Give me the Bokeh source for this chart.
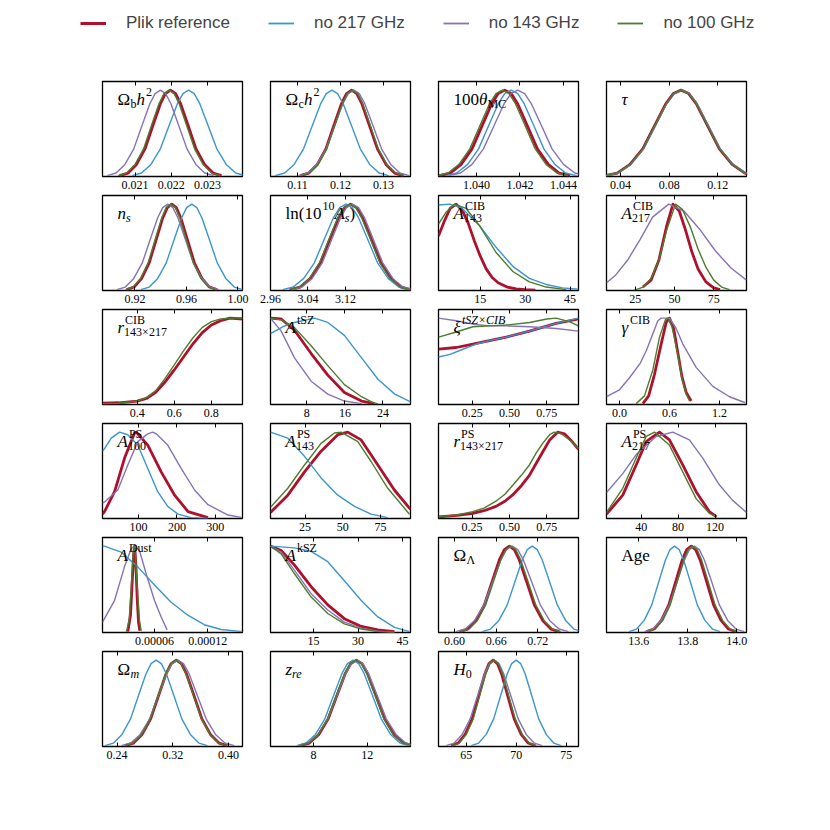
from bokeh.plotting import figure
from bokeh.models import (Range1d, FixedTicker, PrintfTickFormatter, LinearAxis,
                          Label, Legend, LegendItem, Spacer)
from bokeh.layouts import gridplot, column, row
from bokeh.embed import file_html
from bokeh.resources import INLINE

# ---------------- series ----------------
SERIES = ["Plik reference", "no 217 GHz", "no 143 GHz", "no 100 GHz"]
KEYS = ["ref", "n217", "n143", "n100"]
COLORS = {"ref": "#af102d", "n217": "#3c96cd", "n143": "#8773b4", "n100": "#4b7d2d"}
WIDTHS = {"ref": 2.8, "n217": 1.4, "n143": 1.4, "n100": 1.4}

# common near-Gaussian height profile (percent of peak)
G = [1, 4, 14, 32, 61, 84, 96, 100, 96, 84, 61, 32, 14, 4, 1]

ombh2 = {
    "ref": ([0.02057, 0.020805, 0.02104, 0.021275, 0.02151, 0.021698, 0.021839, 0.02198, 0.022121, 0.022262, 0.02245, 0.022685, 0.02292, 0.023155, 0.02339], G),
    "n217": ([0.02092, 0.02118, 0.02144, 0.0217, 0.02196, 0.022168, 0.022324, 0.02248, 0.022636, 0.022792, 0.023, 0.02326, 0.02352, 0.02378, 0.02404], G),
    "n143": ([0.02023, 0.020475, 0.02072, 0.020965, 0.02121, 0.021406, 0.021553, 0.0217, 0.021847, 0.021994, 0.02219, 0.022435, 0.02268, 0.022925, 0.02317], G),
    "n100": ([0.02053, 0.020765, 0.021, 0.021235, 0.02147, 0.021658, 0.021799, 0.02194, 0.022081, 0.022222, 0.02241, 0.022645, 0.02288, 0.023115, 0.02335], G),
}
omch2 = {
    "ref": ([0.1106, 0.1126, 0.1146, 0.1166, 0.1186, 0.1202, 0.1214, 0.1226, 0.1238, 0.125, 0.1266, 0.1286, 0.1306, 0.1326, 0.1346], G),
    "n217": ([0.1048, 0.107, 0.1092, 0.1114, 0.1136, 0.11536, 0.11668, 0.118, 0.11932, 0.12064, 0.1224, 0.1246, 0.1268, 0.129, 0.1312], G),
    "n143": ([0.1102, 0.11235, 0.1145, 0.11665, 0.1188, 0.12052, 0.12181, 0.1231, 0.12439, 0.12568, 0.1274, 0.12955, 0.1317, 0.13385, 0.136], G),
    "n100": ([0.1108, 0.1128, 0.1148, 0.1168, 0.1188, 0.1204, 0.1216, 0.1228, 0.124, 0.1252, 0.1268, 0.1288, 0.1308, 0.1328, 0.1348], G),
}
theta = {
    "ref": ([1.0383, 1.0388, 1.0393, 1.0398, 1.0403, 1.0407, 1.041, 1.0413, 1.0416, 1.0419, 1.0423, 1.0428, 1.0433, 1.0438, 1.0443], G),
    "n217": ([1.0386, 1.0391, 1.0396, 1.0401, 1.0406, 1.041, 1.0413, 1.0416, 1.0419, 1.0422, 1.0426, 1.0431, 1.0436, 1.0441, 1.0446], G),
    "n143": ([1.03875, 1.039275, 1.0398, 1.040325, 1.04085, 1.04127, 1.041585, 1.0419, 1.042215, 1.04253, 1.04295, 1.043475, 1.044, 1.044525, 1.04505], G),
    "n100": ([1.0382, 1.0387, 1.0392, 1.0397, 1.0402, 1.0406, 1.0409, 1.0412, 1.0415, 1.0418, 1.0422, 1.0427, 1.0432, 1.0437, 1.0442], G),
}
tau = {
    "ref": ([0.0268, 0.0373, 0.0478, 0.0583, 0.0688, 0.0772, 0.0835, 0.0898, 0.0961, 0.1024, 0.1108, 0.1213, 0.1318, 0.1423, 0.1528], G),
    "n217": ([0.0272, 0.0377, 0.0482, 0.0587, 0.0692, 0.0776, 0.0839, 0.0902, 0.0965, 0.1028, 0.1112, 0.1217, 0.1322, 0.1427, 0.1532], G),
    "n143": ([0.0275, 0.038, 0.0485, 0.059, 0.0695, 0.0779, 0.0842, 0.0905, 0.0968, 0.1031, 0.1115, 0.122, 0.1325, 0.143, 0.1535], G),
    "n100": ([0.0271, 0.0376, 0.0481, 0.0586, 0.0691, 0.0775, 0.0838, 0.0901, 0.0964, 0.1027, 0.1111, 0.1216, 0.1321, 0.1426, 0.1531], G),
}
ns = {
    "ref": ([0.9135, 0.91935, 0.9252, 0.93105, 0.9369, 0.94158, 0.94509, 0.9486, 0.95211, 0.95562, 0.9603, 0.96615, 0.972, 0.97785, 0.9837], G),
    "n217": ([0.9245, 0.9311, 0.9377, 0.9443, 0.9509, 0.95618, 0.96014, 0.9641, 0.96806, 0.97202, 0.9773, 0.9839, 0.9905, 0.9971, 1.0037], G),
    "n143": ([0.9059, 0.9125, 0.9191, 0.9257, 0.9323, 0.93758, 0.94154, 0.9455, 0.94946, 0.95342, 0.9587, 0.9653, 0.9719, 0.9785, 0.9851], G),
    "n100": ([0.9127, 0.91855, 0.9244, 0.93025, 0.9361, 0.94078, 0.94429, 0.9478, 0.95131, 0.95482, 0.9595, 0.96535, 0.9712, 0.97705, 0.9829], G),
}
logA = {
    "ref": ([3.002, 3.0235, 3.045, 3.0665, 3.088, 3.1052, 3.1181, 3.131, 3.1439, 3.1568, 3.174, 3.1955, 3.217, 3.2385, 3.26], G),
    "n217": ([2.986, 3.0085, 3.031, 3.0535, 3.076, 3.094, 3.1075, 3.121, 3.1345, 3.148, 3.166, 3.1885, 3.211, 3.2335, 3.256], G),
    "n143": ([3.006, 3.0275, 3.049, 3.0705, 3.092, 3.1092, 3.1221, 3.135, 3.1479, 3.1608, 3.178, 3.1995, 3.221, 3.2425, 3.264], G),
    "n100": ([3.0, 3.0215, 3.043, 3.0645, 3.086, 3.1032, 3.1161, 3.129, 3.1419, 3.1548, 3.172, 3.1935, 3.215, 3.2365, 3.258], G),
}
acib143 = {
    "ref": ([1.1, 3, 5, 7, 9, 11, 13, 15, 17, 19, 21, 24, 27, 30, 33.4],
            [63, 80, 95, 100, 93, 78, 58, 40, 25, 15, 9, 4, 2, 1, 0.3]),
    "n217": ([1.1, 4.8, 8.7, 14.8, 20.3, 25.9, 31.4, 37, 42.5, 47.8],
             [99, 100, 96, 75, 50, 28, 14, 7, 3, 1.5]),
    "n100": ([1.1, 3.7, 6.4, 10.3, 14.8, 20.3, 25.9, 31.4, 37, 43.7],
             [77, 91, 100, 95, 75, 44, 22, 10, 4, 1]),
}
acib217 = {
    "ref": ([29.8, 35, 40, 45, 49, 53, 57, 61, 65, 70, 75, 79],
            [4, 12, 35, 75, 100, 92, 70, 45, 25, 10, 3, 1]),
    "n143": ([6.6, 12, 20, 28, 36, 46.3, 56, 66, 76, 86, 95.9],
             [9, 17, 35, 59, 85, 100, 92, 71, 46, 26, 12]),
    "n100": ([24.5, 30, 35, 40, 45, 50.6, 55, 60, 65, 70, 75, 80, 85],
             [0.5, 4, 14, 35, 70, 100, 94, 74, 48, 27, 12, 4, 1]),
}
rcib = {
    "ref": ([0.213, 0.3, 0.4, 0.45, 0.5, 0.55, 0.6, 0.65, 0.7, 0.75, 0.8, 0.85, 0.9, 0.968],
            [1.5, 2, 4, 7, 14, 26, 40, 55, 70, 83, 92, 97, 100, 99]),
    "n100": ([0.213, 0.3, 0.4, 0.45, 0.5, 0.55, 0.6, 0.65, 0.7, 0.75, 0.8, 0.85, 0.9, 0.968],
             [0.8, 1.5, 4, 8, 16, 30, 46, 62, 77, 89, 96, 99, 100, 100]),
}
atsz = {
    "ref": ([0.35, 2.6, 5.4, 8.9, 12.4, 15.9, 19.5, 22.2], [100, 99, 86, 59, 34, 14, 4, 1]),
    "n217": ([0.35, 2.9, 5.4, 9.6, 12.4, 15.9, 19.5, 23.0, 26.5, 29.8],
             [82, 90, 95, 100, 95, 80, 54, 29, 12, 3]),
    "n143": ([0.35, 2.6, 5.4, 8.9, 12.4, 15.9, 19.5], [100, 85, 54, 27, 12, 4, 1]),
    "n100": ([0.35, 2.6, 5.4, 8.9, 12.4, 15.9, 19.5, 21.6, 23.0], [100, 98, 89, 68, 45, 23, 9, 3, 0.5]),
}
xi = {
    "ref": ([0.024, 0.143, 0.254, 0.366, 0.477, 0.634, 0.812, 0.962], [64, 66, 70, 74, 78, 85, 94, 99]),
    "n217": ([0.024, 0.101, 0.187, 0.277, 0.366, 0.477, 0.634, 0.812, 0.962],
             [55, 58, 64, 70, 74, 78, 85, 94, 100]),
    "n143": ([0.024, 0.143, 0.254, 0.366, 0.477, 0.634, 0.812, 0.962], [100, 97, 93, 91, 91, 90, 88, 85]),
    "n100": ([0.024, 0.143, 0.254, 0.366, 0.477, 0.634, 0.75, 0.812, 0.9, 0.962],
             [78, 84, 90, 91, 92, 95, 99, 100, 96, 91]),
}
gcib = {
    "ref": ([0.28, 0.35, 0.42, 0.5, 0.56, 0.6, 0.65, 0.7, 0.75, 0.8, 0.86],
            [1, 10, 35, 70, 95, 100, 88, 60, 32, 14, 4]),
    "n143": ([-0.156, 0.0, 0.12, 0.25, 0.32, 0.4, 0.46, 0.5, 0.6, 0.68, 0.76, 0.92, 1.12, 1.32, 1.51],
             [9, 17, 31, 48, 62, 82, 97, 100, 100, 88, 70, 43, 21, 9, 2]),
    "n100": ([0.2, 0.3, 0.4, 0.48, 0.55, 0.58, 0.63, 0.7, 0.75, 0.8, 0.84],
             [1, 10, 40, 78, 98, 100, 90, 58, 30, 12, 4]),
}
aps100 = {
    "ref": ([6, 11.3, 37.4, 63.5, 89.6, 94, 124, 159, 194, 229, 281],
            [5, 8, 31, 70, 99, 100, 85, 54, 27, 8, 1]),
    "n217": ([6, 11.3, 28.8, 50.5, 72, 98, 124, 150, 176, 203, 237, 280],
             [78, 81, 93, 100, 97, 85, 58, 31, 14, 5, 1, 0]),
    "n143": ([6, 11.3, 46, 72, 98, 124, 137, 146, 176, 211, 246, 281, 333, 371],
             [18, 19, 33, 62, 89, 98, 100, 98, 85, 58, 33, 16, 4, 1]),
}
aps143 = {
    "ref": ([2, 13.5, 24.6, 35.6, 46.7, 53.3, 62.2, 73.3, 84.3, 94.3, 95],
            [7, 27, 54, 78, 97, 100, 91, 62, 33, 12, 11]),
    "n217": ([2, 13.5, 24.6, 35.6, 46.7, 57.8, 68.8, 79.9], [100, 93, 72, 47, 27, 14, 5, 1]),
    "n100": ([2, 13.5, 24.6, 35.6, 44.5, 48.9, 60, 68.8, 79.9, 94.3],
             [13, 35, 62, 87, 99, 100, 89, 66, 35, 5]),
}
rps = {
    "ref": ([0.025, 0.15, 0.254, 0.33, 0.41, 0.47, 0.52, 0.58, 0.634, 0.68, 0.723, 0.77, 0.823, 0.87, 0.91, 0.963],
            [2, 3.5, 6, 9, 14, 20, 27, 38, 50, 64, 77, 91, 100, 98, 91, 80]),
    "n100": ([0.025, 0.15, 0.254, 0.33, 0.41, 0.47, 0.52, 0.58, 0.634, 0.68, 0.723, 0.77, 0.80, 0.85, 0.91, 0.963],
             [2, 4, 8, 12, 20, 28, 38, 50, 62, 76, 87, 97, 100, 98, 90, 81]),
}
aps217 = {
    "ref": ([2.5, 20.1, 34.6, 45.4, 59.8, 70.6, 85, 99.5, 113.8, 121.7],
            [5, 27, 62, 89, 100, 91, 62, 31, 8, 2]),
    "n143": ([2.5, 20.1, 34.6, 56.2, 74.2, 92.2, 106.6, 124.6, 139, 154],
             [30, 52, 74, 95, 100, 91, 70, 39, 21, 7]),
    "n100": ([2.5, 20.1, 34.6, 45.4, 54.4, 70.6, 85, 99.5, 113.8, 121.7],
             [7, 35, 70, 95, 100, 85, 54, 23, 6, 2]),
}
adust = {
    "ref": ([3.0e-5, 3.3e-5, 3.5e-5, 3.67e-5, 3.77e-5, 3.9e-5, 4.05e-5, 4.2e-5, 4.35e-5],
            [1, 20, 60, 92, 100, 80, 40, 12, 2]),
    "n217": ([1.5e-6, 3.7e-6, 2.25e-5, 4.12e-5, 6.0e-5, 7.87e-5, 9.75e-5, 1.16e-4, 1.35e-4, 1.59e-4],
             [100, 100, 93, 76, 55, 35, 20, 9, 3.5, 1]),
    "n143": ([1.5e-6, 1.5e-5, 2.62e-5, 3.37e-5, 3.75e-5, 4.31e-5, 5.06e-5, 6.0e-5, 6.75e-5, 7.42e-5],
             [12, 37, 76, 97, 100, 95, 68, 37, 18, 3]),
    "n100": ([2.85e-5, 3.15e-5, 3.4e-5, 3.6e-5, 3.7e-5, 3.85e-5, 4.05e-5, 4.3e-5, 4.5e-5],
             [1, 15, 55, 92, 100, 90, 55, 15, 2]),
}
aksz = {
    "ref": ([0.5, 4.1, 8.6, 14.2, 19.8, 25.4, 31.1, 36.7, 42.3], [100, 95, 78, 53, 32, 16, 7, 3, 1]),
    "n217": ([0.5, 8.6, 14.2, 19.8, 25.4, 31.1, 36.7, 42.3, 47.4], [100, 98, 94, 82, 60, 37, 18, 6, 1]),
    "n143": ([0.5, 4.1, 8.6, 14.2, 19.8, 25.4, 31.1, 36.7, 42.3], [100, 93, 72, 45, 26, 12, 5, 1.5, 0]),
    "n100": ([0.5, 4.1, 8.6, 14.2, 19.8, 25.4, 31.1, 36.7, 42.3], [100, 91, 68, 41, 22, 10, 4, 1, 0]),
}
omegal = {
    "ref": ([0.607, 0.619, 0.631, 0.643, 0.655, 0.6646, 0.6718, 0.679, 0.6862, 0.6934, 0.703, 0.715, 0.727, 0.739, 0.751], G),
    "n217": ([0.64, 0.652, 0.664, 0.676, 0.688, 0.6976, 0.7048, 0.712, 0.7192, 0.7264, 0.736, 0.748, 0.76, 0.772, 0.784], G),
    "n143": ([0.602, 0.6155, 0.629, 0.6425, 0.656, 0.6668, 0.6749, 0.683, 0.6911, 0.6992, 0.71, 0.7235, 0.737, 0.7505, 0.764], G),
    "n100": ([0.609, 0.621, 0.633, 0.645, 0.657, 0.6666, 0.6738, 0.681, 0.6882, 0.6954, 0.705, 0.717, 0.729, 0.741, 0.753], G),
}
age = {
    "ref": ([13.631, 13.6615, 13.692, 13.7225, 13.753, 13.7774, 13.7957, 13.814, 13.8323, 13.8506, 13.875, 13.9055, 13.936, 13.9665, 13.997], G),
    "n217": ([13.56, 13.591, 13.622, 13.653, 13.684, 13.7088, 13.7274, 13.746, 13.7646, 13.7832, 13.808, 13.839, 13.87, 13.901, 13.932], G),
    "n143": ([13.623, 13.657, 13.691, 13.725, 13.759, 13.7862, 13.8066, 13.827, 13.8474, 13.8678, 13.895, 13.929, 13.963, 13.997, 14.031], G),
    "n100": ([13.637, 13.6675, 13.698, 13.7285, 13.759, 13.7834, 13.8017, 13.82, 13.8383, 13.8566, 13.881, 13.9115, 13.942, 13.9725, 14.003], G),
}
omegam = {
    "ref": ([0.2515, 0.26375, 0.276, 0.28825, 0.3005, 0.3103, 0.31765, 0.325, 0.33235, 0.3397, 0.3495, 0.36175, 0.374, 0.38625, 0.3985], G),
    "n217": ([0.2227, 0.23495, 0.2472, 0.25945, 0.2717, 0.2815, 0.28885, 0.2962, 0.30355, 0.3109, 0.3207, 0.33295, 0.3452, 0.35745, 0.3697], G),
    "n143": ([0.2463, 0.2598, 0.2733, 0.2868, 0.3003, 0.3111, 0.3192, 0.3273, 0.3354, 0.3435, 0.3543, 0.3678, 0.3813, 0.3948, 0.4083], G),
    "n100": ([0.251, 0.26325, 0.2755, 0.28775, 0.3, 0.3098, 0.31715, 0.3245, 0.33185, 0.3392, 0.349, 0.36125, 0.3735, 0.38575, 0.398], G),
}
zre = {
    "ref": ([7.0, 7.7, 8.4, 9.1, 9.8, 10.36, 10.78, 11.2, 11.62, 12.04, 12.6, 13.3, 14.0, 14.7, 15.4], G),
    "n217": ([6.75, 7.45, 8.15, 8.85, 9.55, 10.11, 10.53, 10.95, 11.37, 11.79, 12.35, 13.05, 13.75, 14.45, 15.15], G),
    "n143": ([6.9, 7.625, 8.35, 9.075, 9.8, 10.38, 10.815, 11.25, 11.685, 12.12, 12.7, 13.425, 14.15, 14.875, 15.6], G),
    "n100": ([6.95, 7.65, 8.35, 9.05, 9.75, 10.31, 10.73, 11.15, 11.57, 11.99, 12.55, 13.25, 13.95, 14.65, 15.35], G),
}
h0 = {
    "ref": ([63.5, 64.2, 64.9, 65.6, 66.3, 66.86, 67.28, 67.7, 68.12, 68.54, 69.1, 69.8, 70.5, 71.2, 71.9], G),
    "n217": ([65.5, 66.25, 67.0, 67.75, 68.5, 69.1, 69.55, 70.0, 70.45, 70.9, 71.5, 72.25, 73.0, 73.75, 74.5], G),
    "n143": ([63.0, 63.8, 64.6, 65.4, 66.2, 66.84, 67.32, 67.8, 68.28, 68.76, 69.4, 70.2, 71.0, 71.8, 72.6], G),
    "n100": ([63.6, 64.3, 65.0, 65.7, 66.4, 66.96, 67.38, 67.8, 68.22, 68.64, 69.2, 69.9, 70.6, 71.3, 72.0], G),
}

# panel titles: ("b", text, italic) base, ("sub"/"sup", text, italic), ("ss", sub, sup, sub_it, sup_it)
TITLES = [
    [("b", "Ω", 0), ("sub", "b", 0), ("b", "h", 1), ("sup", "2", 0)],
    [("b", "Ω", 0), ("sub", "c", 0), ("b", "h", 1), ("sup", "2", 0)],
    [("b", "100", 0), ("b", "θ", 1), ("sub", "MC", 0)],
    [("b", "τ", 1)],
    [("b", "n", 1), ("sub", "s", 1)],
    [("b", "ln(10", 0), ("sup", "10", 0), ("b", "A", 1), ("sub", "s", 1), ("b", ")", 0)],
    [("b", "A", 1), ("ss", "143", "CIB", 0, 0)],
    [("b", "A", 1), ("ss", "217", "CIB", 0, 0)],
    [("b", "r", 1), ("ss", "143×217", "CIB", 0, 0)],
    [("b", "A", 1), ("sup", "tSZ", 0)],
    [("b", "ξ", 1), ("sup", "tSZ×CIB", 1)],
    [("b", "γ", 1), ("sup", "CIB", 0)],
    [("b", "A", 1), ("ss", "100", "PS", 0, 0)],
    [("b", "A", 1), ("ss", "143", "PS", 0, 0)],
    [("b", "r", 1), ("ss", "143×217", "PS", 0, 0)],
    [("b", "A", 1), ("ss", "217", "PS", 0, 0)],
    [("b", "A", 1), ("sup", "Dust", 0)],
    [("b", "A", 1), ("sup", "kSZ", 0)],
    [("b", "Ω", 0), ("sub", "Λ", 0)],
    [("b", "Age", 0)],
    [("b", "Ω", 0), ("sub", "m", 1)],
    [("b", "z", 1), ("sub", "re", 1)],
    [("b", "H", 1), ("sub", "0", 0)],
]
DATA = [ombh2, omch2, theta, tau, ns, logA, acib143, acib217, rcib, atsz, xi, gcib,
        aps100, aps143, rps, aps217, adust, aksz, omegal, age, omegam, zre, h0]
XLIMS = [(0.0201, 0.02397), (0.1037, 0.1363), (1.03826, 1.04469), (0.0285, 0.1436),
         (0.8948, 1.0035), (2.96, 3.2587), (1.1, 47.8), (6.6, 95.9),
         (0.213, 0.968), (0.35, 29.8), (0.024, 0.962), (-0.156, 1.524),
         (6, 371), (2, 95), (0.025, 0.963), (2.5, 154),
         (1.5e-6, 1.59e-4), (0.5, 47.7), (0.577, 0.7786), (13.468, 14.04),
         (0.2192, 0.42), (4.8, 15.23), (62.23, 76.23)]
TICKS = [[0.021, 0.022, 0.023], [0.11, 0.12, 0.13], [1.040, 1.042, 1.044], [0.04, 0.08, 0.12],
         [0.92, 0.96, 1.00], [2.96, 3.04, 3.12], [15, 30, 45], [25, 50, 75],
         [0.4, 0.6, 0.8], [8, 16, 24], [0.25, 0.50, 0.75], [0.0, 0.6, 1.2],
         [100, 200, 300], [25, 50, 75], [0.25, 0.50, 0.75], [40, 80, 120],
         [0.00006, 0.00012], [15, 30, 45], [0.60, 0.66, 0.72], [13.6, 13.8, 14.0],
         [0.24, 0.32, 0.40], [8, 12], [65, 70, 75]]
FORMATS = ["%.3f", "%.2f", "%.3f", "%.2f", "%.2f", "%.2f", "%d", "%d",
           "%.1f", "%d", "%.2f", "%.1f", "%d", "%d", "%.2f", "%d",
           "%.5f", "%d", "%.2f", "%.1f", "%.2f", "%d", "%d"]

# ---------------- styling ----------------
SERIF = "Liberation Serif"
BASE_PX, SCR_PX = 17, 12
BASE_DY, SUP_DY, SUB_DY, LEFT_PAD = 18, 8, -4, 15
YMAX = 110

W_RM = {"Ω": 768, "Λ": 722, ".": 250, "(": 333, ")": 333, "×": 564, "l": 278, "n": 500,
        "A": 722, "g": 500, "e": 444, "b": 500, "c": 444, "h": 500, "M": 889, "C": 667,
        "I": 333, "B": 667, "P": 556, "S": 556, "D": 722, "u": 500, "s": 389, "t": 278,
        "k": 500, "Z": 611, "r": 333, "m": 778, "H": 722, "z": 444}
W_IT = {"A": 611, "h": 500, "n": 500, "s": 389, "r": 389, "z": 389, "H": 722, "m": 722,
        "t": 278, "S": 500, "Z": 556, "C": 667, "I": 333, "B": 611, "×": 675, "θ": 500,
        "τ": 440, "ξ": 440, "γ": 440, "e": 444}


def text_w(t, size, it):
    tbl = W_IT if it else W_RM
    return sum(tbl.get(c, 500) for c in t) * size / 1000.0


def put(p, x0, dx, dy, t, size, it):
    p.add_layout(Label(x=x0, y=YMAX, x_offset=dx, y_offset=dy, text=t,
                       text_font=SERIF, text_font_size=f"{size}px",
                       text_font_style="italic" if it else "normal",
                       text_color="black", text_baseline="alphabetic", text_align="left"))


def add_title(p, segs, x0):
    dx = LEFT_PAD
    for s in segs:
        k = s[0]
        if k == "b":
            put(p, x0, dx, -BASE_DY, s[1], BASE_PX, s[2])
            dx += text_w(s[1], BASE_PX, s[2])
        elif k == "sup":
            put(p, x0, dx + 1, -BASE_DY + SUP_DY, s[1], SCR_PX, s[2])
            dx += text_w(s[1], SCR_PX, s[2]) + 1
        elif k == "sub":
            put(p, x0, dx, -BASE_DY + SUB_DY, s[1], SCR_PX, s[2])
            dx += text_w(s[1], SCR_PX, s[2])
        else:
            put(p, x0, dx, -BASE_DY + SUB_DY, s[1], SCR_PX, s[3])
            put(p, x0, dx + 1, -BASE_DY + SUP_DY, s[2], SCR_PX, s[4])
            dx += max(text_w(s[1], SCR_PX, s[3]), text_w(s[2], SCR_PX, s[4]) + 1)


def make_panel(i):
    lo, hi = XLIMS[i]
    p = figure(frame_width=140, frame_height=95, x_range=Range1d(lo, hi),
               y_range=Range1d(0, YMAX), output_backend="svg", toolbar_location=None,
               tools="", y_axis_location=None, min_border_left=14, min_border_right=14,
               min_border_top=1, min_border_bottom=18, outline_line_color="black",
               outline_line_width=1.3, background_fill_color="white",
               border_fill_color="white")
    p.grid.visible = False
    ax = p.xaxis[0]
    ax.ticker = FixedTicker(ticks=TICKS[i])
    ax.formatter = PrintfTickFormatter(format=FORMATS[i])
    ax.axis_line_color = None
    ax.major_tick_in = 4
    ax.major_tick_out = 0
    ax.major_tick_line_color = "black"
    ax.minor_tick_line_color = None
    ax.major_label_standoff = 4
    ax.major_label_text_font = SERIF
    ax.major_label_text_font_size = "12px"
    ax.major_label_text_color = "black"
    top = LinearAxis(ticker=FixedTicker(ticks=TICKS[i]), major_label_text_font_size="0px",
                     major_label_text_color=None, major_label_standoff=0,
                     major_tick_in=4, major_tick_out=0,
                     axis_line_color=None, minor_tick_line_color=None,
                     major_tick_line_color="black")
    p.add_layout(top, "above")
    d = DATA[i]
    for k in KEYS:
        if k in d:
            xs, ys = d[k]
            p.line(xs, ys, line_color=COLORS[k], line_width=WIDTHS[k], line_join="round")
    add_title(p, TITLES[i], lo)
    return p


panels = [make_panel(i) for i in range(len(DATA))]
rows = [panels[j:j + 4] for j in range(0, len(panels), 4)]
rows[-1] = rows[-1] + [None] * (4 - len(rows[-1]))
grid = gridplot(rows, toolbar_location=None)

# ---------------- legend strip ----------------
lf = figure(width=814, height=80, x_range=Range1d(0, 1), y_range=Range1d(0, 1),
            x_axis_location=None, y_axis_location=None, toolbar_location=None, tools="",
            output_backend="svg", min_border=0, outline_line_color=None)
lf.grid.visible = False
items = []
for k, name in zip(KEYS, SERIES):
    r = lf.line([5, 6], [5, 6], line_color=COLORS[k], line_width=3.0 if k == "ref" else 1.8)
    items.append(LegendItem(label=name, renderers=[r]))
leg = Legend(items=items, orientation="horizontal", location=(80, 47),
             label_text_font="Liberation Sans", label_text_font_size="17px",
             label_text_baseline="middle", glyph_width=26, glyph_height=20,
             label_height=20, label_standoff=20, spacing=38, padding=0, margin=0,
             border_line_color=None, background_fill_alpha=0)
lf.add_layout(leg)

layout = column(lf, row(Spacer(width=88, height=10), grid))
open("out.html", "w").write(file_html(layout, INLINE))
